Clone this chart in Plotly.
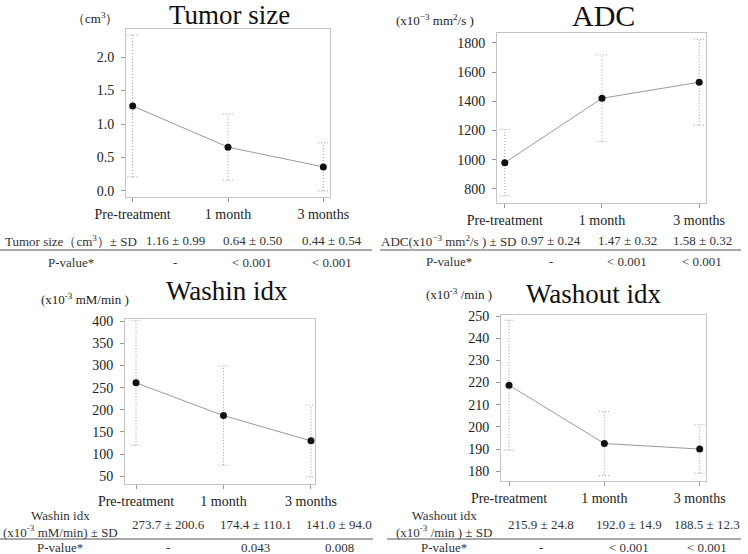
import plotly.graph_objects as go

W, H = 748, 554

categories = ["Pre-treatment", "1 month", "3 months"]

# values read from the plotted points / error bars
tumor_mean = [1.27, 0.655, 0.36]
tumor_sd = [1.06, 0.495, 0.36]
adc_mean = [980, 1421, 1531]
adc_sd = [228, 297, 294]
washin_mean = [261, 187, 130]
washin_sd = [141, 112, 81]
washout_mean = [218.8, 192.5, 190.0]
washout_sd = [29.3, 14.4, 10.9]

tumor_ticks = [0.0, 0.5, 1.0, 1.5, 2.0]
adc_ticks = [800, 1000, 1200, 1400, 1600, 1800]
washin_ticks = [50, 100, 150, 200, 250, 300, 350, 400]
washout_ticks = [180, 190, 200, 210, 220, 230, 240, 250]

titles = ["Tumor size", "ADC", "Washin idx", "Washout idx"]
units = ["（cm<sup>3</sup>）", "(x10<sup>−3</sup> mm<sup>2</sup>/s )",
         "(x10<sup>-3</sup> mM/min )", "(x10<sup>-3</sup> /min )"]

row_labels = ["Tumor size（cm<sup>3</sup>）± SD",
              "ADC(x10<sup>−3</sup> mm<sup>2</sup>/s ) ± SD",
              "Washin idx<br>(x10<sup>-3</sup> mM/min) ± SD",
              "Washout idx<br>(x10<sup>-3</sup> /min ) ± SD"]
tumor_table = ["1.16 ± 0.99", "0.64 ± 0.50", "0.44 ± 0.54"]
adc_table = ["0.97 ± 0.24", "1.47 ± 0.32", "1.58 ± 0.32"]
washin_table = ["273.7 ± 200.6", "174.4 ± 110.1", "141.0 ± 94.0"]
washout_table = ["215.9 ± 24.8", "192.0 ± 14.9", "188.5 ± 12.3"]
tumor_p = ["-", "< 0.001", "< 0.001"]
adc_p = ["-", "< 0.001", "< 0.001"]
washin_p = ["-", "0.043", "0.008"]
washout_p = ["-", "< 0.001", "< 0.001"]

FONT = "Times New Roman, Liberation Serif, Tinos, Times, serif"

panels = [
    dict(mean=tumor_mean, sd=tumor_sd, ticks=tumor_ticks, fmt=".1f",
         box=(126, 330, 29, 197), xr=[-0.07, 2.07], yr=[-0.09, 2.42],
         title_xy=(229, 15), title_size=27, unit_xy=(95, 18),
         table=tumor_table, p=tumor_p, cols=(71, 175, 252, 332),
         rows=(241, 262), line=(0, 372, 250)),
    dict(mean=adc_mean, sd=adc_sd, ticks=adc_ticks, fmt="d",
         box=(497, 706, 33, 203), xr=[-0.08, 2.07], yr=[704, 1868],
         title_xy=(603, 16), title_size=30, unit_xy=(435, 20),
         table=adc_table, p=adc_p, cols=(449, 551, 627, 702),
         rows=(241, 261), line=(380, 741, 250)),
    dict(mean=washin_mean, sd=washin_sd, ticks=washin_ticks, fmt="d",
         box=(125, 315, 319, 484), xr=[-0.126, 2.046], yr=[32.6, 405],
         title_xy=(227, 291), title_size=27, unit_xy=(85, 299),
         table=washin_table, p=washin_p, cols=(60, 168, 256, 339),
         rows=(524, 547), line=(0, 373, 539)),
    dict(mean=washout_mean, sd=washout_sd, ticks=washout_ticks, fmt="d",
         box=(501, 706, 315, 481), xr=[-0.084, 2.066], yr=[175.6, 250.45],
         title_xy=(594, 294), title_size=27, unit_xy=(459, 294),
         table=washout_table, p=washout_p, cols=(444, 541, 629, 707),
         rows=(524, 547), line=(387, 741, 539)),
]

fig = go.Figure()
annotations = []
shapes = []
xpos = list(range(len(categories)))

for k, pn in enumerate(panels):
    n = "" if k == 0 else str(k + 1)
    xa, ya = "x" + n, "y" + n
    cap = 0.055
    ex, ey = [], []
    for i, (m, s) in enumerate(zip(pn["mean"], pn["sd"])):
        lo, hi = m - s, m + s
        ex += [i, i, None, i - cap, i + cap, None, i - cap, i + cap, None]
        ey += [lo, hi, None, lo, lo, None, hi, hi, None]
    fig.add_trace(go.Scatter(x=ex, y=ey, mode="lines", xaxis=xa, yaxis=ya,
                             line=dict(color="#9c9c9c", width=1, dash="1px,2px"),
                             hoverinfo="skip", showlegend=False))
    fig.add_trace(go.Scatter(x=xpos, y=pn["mean"], mode="lines+markers",
                             xaxis=xa, yaxis=ya,
                             line=dict(color="#9a9a9a", width=1),
                             marker=dict(color="#111", size=7),
                             showlegend=False))
    l, r, t, b = pn["box"]
    axis_common = dict(showline=True, mirror=True, linecolor="#c4c4c4",
                       linewidth=1, showgrid=False, zeroline=False,
                       ticks="outside", ticklen=4, tickcolor="#999",
                       automargin=False,
                       tickfont=dict(family=FONT, size=14, color="#222"))
    fig.update_layout(**{
        "xaxis" + n: dict(domain=[l / W, r / W], range=pn["xr"],
                          tickvals=xpos, ticktext=categories,
                          anchor=ya, **axis_common),
        "yaxis" + n: dict(domain=[1 - b / H, 1 - t / H], range=pn["yr"],
                          tickvals=pn["ticks"], tickformat=pn["fmt"],
                          ticklabelstandoff=4,
                          anchor=xa, **axis_common),
    })
    tx, ty = pn["title_xy"]
    annotations.append(dict(x=tx / W, y=1 - ty / H, xref="paper", yref="paper",
                            text=titles[k], showarrow=False,
                            font=dict(family=FONT, size=pn["title_size"], color="#111"),
                            xanchor="center", yanchor="middle"))
    ux, uy = pn["unit_xy"]
    annotations.append(dict(x=ux / W, y=1 - uy / H, xref="paper", yref="paper",
                            text=units[k], showarrow=False,
                            font=dict(family=FONT, size=13, color="#222"),
                            xanchor="center", yanchor="middle"))
    c0, c1, c2, c3 = pn["cols"]
    r1, r2 = pn["rows"]
    tf = dict(family=FONT, size=13, color="#333")
    annotations.append(dict(x=c0 / W, y=1 - r1 / H, xref="paper", yref="paper",
                            text=row_labels[k], showarrow=False, font=tf,
                            xanchor="center", yanchor="middle"))
    annotations.append(dict(x=c0 / W, y=1 - r2 / H, xref="paper", yref="paper",
                            text="P-value*", showarrow=False, font=tf,
                            xanchor="center", yanchor="middle"))
    for cx, v, pv in zip((c1, c2, c3), pn["table"], pn["p"]):
        annotations.append(dict(x=cx / W, y=1 - r1 / H, xref="paper", yref="paper",
                                text=v, showarrow=False, font=tf,
                                xanchor="center", yanchor="middle"))
        annotations.append(dict(x=cx / W, y=1 - r2 / H, xref="paper", yref="paper",
                                text=pv, showarrow=False, font=tf,
                                xanchor="center", yanchor="middle"))
    lx0, lx1, ly = pn["line"]
    shapes.append(dict(type="line", xref="paper", yref="paper",
                       x0=lx0 / W, x1=lx1 / W, y0=1 - ly / H, y1=1 - ly / H,
                       line=dict(color="#555", width=1.2)))

fig.update_layout(width=W, height=H,
                  margin=dict(l=0, r=0, t=0, b=0, pad=0, autoexpand=False),
                  paper_bgcolor="white", plot_bgcolor="white",
                  annotations=annotations, shapes=shapes,
                  font=dict(family=FONT))
fig.write_html("out.html")
